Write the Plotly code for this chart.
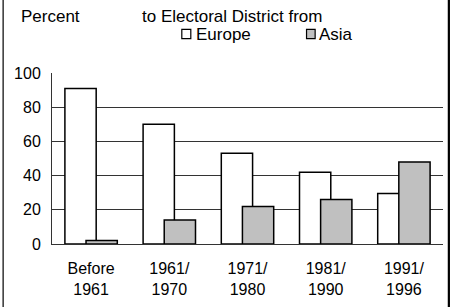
import plotly.graph_objects as go

categories = ["Before<br>1961", "1961/<br>1970", "1971/<br>1980", "1981/<br>1990", "1991/<br>1996"]
europe = [91, 70, 53, 42, 29.5]
asia = [2, 14, 22, 26, 48]
y_ticks = [0, 20, 40, 60, 80, 100]

FONT = "Liberation Sans, Arial, sans-serif"
x = list(range(len(categories)))

fig = go.Figure()
fig.add_trace(go.Bar(
    x=x, y=europe, name="Europe",
    marker=dict(color="white", line=dict(color="black", width=1.5)),
    width=0.40, offset=-0.335, showlegend=False,
))
fig.add_trace(go.Bar(
    x=x, y=asia, name="Asia",
    marker=dict(color="#c0c0c0", line=dict(color="black", width=1.5)),
    width=0.40, offset=-0.065, showlegend=False,
))

fig.update_layout(
    width=451, height=307,
    margin=dict(l=52, r=8, t=73, b=63),
    paper_bgcolor="white", plot_bgcolor="white",
    barmode="overlay",
    font=dict(family=FONT, size=16, color="black"),
    xaxis=dict(
        range=[-0.5, len(categories) - 0.5],
        tickmode="array", tickvals=x, ticktext=categories,
        showline=True, linecolor="#333", linewidth=1,
        showgrid=False, ticks="", ticklabelstandoff=10,
        zeroline=False,
    ),
    yaxis=dict(
        range=[0, 100], tickmode="array", tickvals=y_ticks,
        showline=True, linecolor="#333", linewidth=1,
        showgrid=True, gridcolor="#333", gridwidth=1,
        ticks="", ticklabelstandoff=7, zeroline=False,
        tickfont=dict(size=16),
    ),
)

# Legend drawn as text + swatches (matching original compact layout)
legend_items = [("Europe", "white", 0.332, 0.355, 0.363), ("Asia", "#c0c0c0", 0.651, 0.673, 0.678)]
for name, color, bx0, bx1, tx in legend_items:
    fig.add_shape(type="rect", xref="paper", yref="paper",
                  x0=bx0, x1=bx1, y0=1.201, y1=1.255,
                  line=dict(color="black", width=1.2), fillcolor=color)
    fig.add_annotation(text=name, xref="paper", yref="paper", x=tx, y=1.226,
                       xanchor="left", yanchor="middle", showarrow=False,
                       font=dict(family=FONT, size=17))

fig.add_annotation(text="Percent", xref="paper", yref="paper", x=-0.084, y=1.33,
                   xanchor="left", yanchor="middle", showarrow=False,
                   font=dict(family=FONT, size=17))
fig.add_annotation(text="to Electoral District from", xref="paper", yref="paper",
                   x=0.225, y=1.33, xanchor="left", yanchor="middle", showarrow=False,
                   font=dict(family=FONT, size=17))

# outer frame side rules
fig.add_shape(type="line", xref="paper", yref="paper", x0=-0.125, x1=-0.125,
              y0=-0.4, y1=1.45, line=dict(color="black", width=1.2))
fig.add_shape(type="line", xref="paper", yref="paper", x0=1.015, x1=1.015,
              y0=-0.4, y1=1.45, line=dict(color="black", width=2.2))

fig.write_html("out.html", config={"displayModeBar": False},
               post_script="document.body.style.margin='0';")
